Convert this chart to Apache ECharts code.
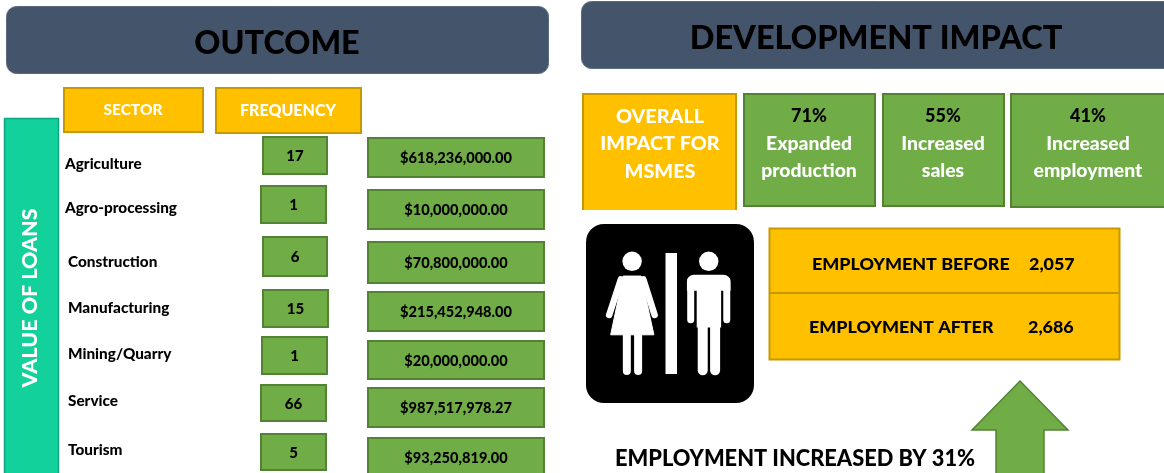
<!DOCTYPE html>
<html><head><meta charset="utf-8">
<style>html,body{margin:0;padding:0;background:#fff}#c{width:1164px;height:473px}</style>
<script src="https://cdn.jsdelivr.net/npm/echarts@6/dist/echarts.min.js"></script>
</head><body><div id="c"></div>
<script>
const sectors = ['Agriculture','Agro-processing','Construction','Manufacturing','Mining/Quarry','Service','Tourism'];
const frequency = [17,1,6,15,1,66,5];
const loanValues = ['$618,236,000.00','$10,000,000.00','$70,800,000.00','$215,452,948.00','$20,000,000.00','$987,517,978.27','$93,250,819.00'];
const impactPct = ['71%','55%','41%'];
const impactLabel = [['Expanded','production'],['Increased','sales'],['Increased','employment']];
const employmentLabels = ['EMPLOYMENT BEFORE','EMPLOYMENT AFTER'];
const employmentValues = ['2,057','2,686'];

// layout (kept apart from the data)
const sectorPos = [[65,164],[65,208],[68,262],[68,308],[68,354],[68,401],[68,450]];
const freqBox = [[263,137,64,37],[261,186,65,37],[263,237,64,39],[263,290,65,37],[262,337,65,37],[261,385,65,36],[261,434,65,36]];
const valBox = [[368,138,176,39],[368,190,176,39],[368,242,176,41],[368,292,176,39],[368,341,176,38],[368,388,176,39],[368,438,176,38]];
const impactBox = [[744,94,131,112,809],[883,94,121,112,943],[1011,94,160,113,1088]];
const FONT = 'Lato, Carlito, sans-serif';
const NAVY='#44546a', AMB='#ffc000', AMBS='#c79800', GRN='#70ad47', GRNS='#548235', TEAL='#12d19a';

const g = [];
const rect=(x,y,w,h,fill,stroke,lw,r)=>g.push({type:'rect',shape:{x,y,width:w,height:h,r:r||0},style:{fill,stroke:stroke||null,lineWidth:lw||0}});
const text=(x,y,t,size,fill,align,rot)=>{
  g.push({type:'text',x,y,rotation:rot||0,z:5,style:{x:0,y:0,text:t,font:`900 ${size}px ${FONT}`,fill,textAlign:align||'center',align:align||'center',textVerticalAlign:'middle',verticalAlign:'middle'}});
};
// banners
rect(6.5,6.5,542,67,NAVY,'#5a6b80',1,10);
text(277,44,'OUTCOME',32.3,'#000');
rect(581.5,1.5,600,67,NAVY,'#5a6b80',1,10);
text(876,39,'DEVELOPMENT IMPACT',32.5,'#000');
// table header
rect(64,88,139,44,AMB,AMBS,2);
text(133,110,'SECTOR',15.5,'#fff');
rect(216,88,145,45,AMB,AMBS,2);
text(288,111,'FREQUENCY',16,'#fff');
// side band
rect(4.5,118.5,54,360,TEAL,'#0ea582',1.5);
text(30,298,'VALUE OF LOANS',21.5,'#fff','center',Math.PI/2);
// rows
sectors.forEach((s,i)=>{
  text(sectorPos[i][0],sectorPos[i][1],s,15.3,'#000','left');
  const f=freqBox[i], v=valBox[i];
  rect(f[0],f[1],f[2],f[3],GRN,GRNS,2);
  text(f[0]+f[2]/2,f[1]+f[3]/2+1,String(frequency[i]),15,'#000');
  rect(v[0],v[1],v[2],v[3],GRN,GRNS,2);
  text(v[0]+v[2]/2,v[1]+v[3]/2+1,loanValues[i],14.6,'#000');
});
// impact
rect(583,94,153,120,AMB,AMBS,2);
rect(575,210,175,10,'#fff');
['OVERALL','IMPACT FOR','MSMES'].forEach((t,i)=>text(660,[117,144,172][i],t,19.8,'#fff'));
impactBox.forEach((b,i)=>{
  rect(b[0],b[1],b[2],b[3],GRN,GRNS,2);
  text(b[4],116,impactPct[i],18,'#000');
  text(b[4],144,impactLabel[i][0],19.4,'#fff');
  text(b[4],171,impactLabel[i][1],19.4,'#fff');
});
// employment
rect(769.5,228.5,350,131,AMB,AMBS,2);
g.push({type:'line',shape:{x1:769,y1:293,x2:1120,y2:293},style:{stroke:AMBS,lineWidth:2},z:2});
text(812,264,employmentLabels[0],17.9,'#000','left');
text(1029,264,employmentValues[0],17.9,'#000','left');
text(809,327,employmentLabels[1],17.9,'#000','left');
text(1028,327,employmentValues[1],17.9,'#000','left');
// arrow
g.push({type:'polygon',shape:{points:[[1020,381],[1068,430],[1044,430],[1044,480],[996,480],[996,430],[972,430]]},style:{fill:GRN,stroke:GRNS,lineWidth:1.5}});
text(615,459,'EMPLOYMENT INCREASED BY 31%',21.8,'#000','left');
// restroom icon
rect(586,224,168,179,'#000',null,0,18);
const W='#fff';
const zx=x=>575+x/2.662, zy=y=>215+y/2.98;
const ln=(a,b,c,d,w)=>g.push({type:'line',z:3,shape:{x1:zx(a),y1:zy(b),x2:zx(c),y2:zy(d)},style:{stroke:W,lineWidth:w,lineCap:'round'}});
const circ=(x,y,r)=>g.push({type:'circle',z:3,shape:{cx:zx(x),cy:zy(y),r},style:{fill:W}});
const poly=(pts)=>g.push({type:'polygon',z:3,shape:{points:pts.map(p=>[zx(p[0]),zy(p[1])])},style:{fill:W,stroke:W,lineWidth:1,lineJoin:'round'}});
circ(152,138,9.7); circ(356,138,9.7);
rect(665.5,253,11.5,121,W);
g[g.length-1].z=3;
// woman
poly([[128,182],[176,182],[210,357],[95,357]]);
ln(122,192,91,298,6.5); ln(182,192,212,298,6.5);
ln(138,350,138,465,8); ln(168,350,168,465,8);
// man
g.push({type:'rect',z:3,shape:{x:zx(298),y:zy(178),width:zx(414)-zx(298),height:16,r:[7,7,0,0]},style:{fill:W}});
g.push({type:'rect',z:3,shape:{x:zx(324),y:zy(180),width:zx(389)-zx(324),height:52},style:{fill:W}});
ln(308,195,308,312,7); ln(404,195,404,312,7);
ln(340,320,340,463,10); ln(373,320,373,463,10);

echarts.init(document.getElementById('c'),null,{renderer:'canvas'}).setOption({backgroundColor:'#fff',animation:false,graphic:{elements:g}});
</script></body></html>
